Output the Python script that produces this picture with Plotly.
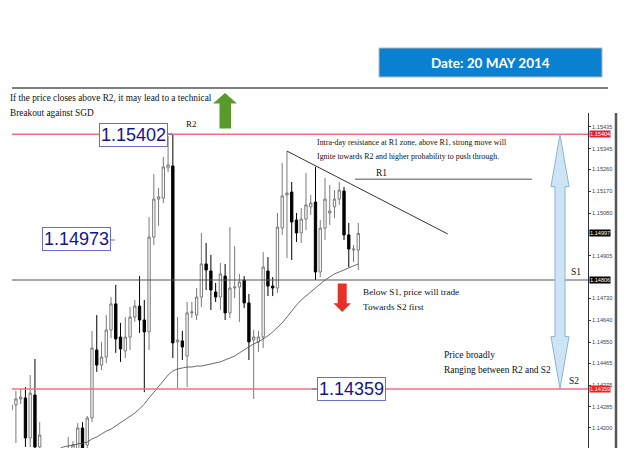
import plotly.graph_objects as go

# ---------------- data ----------------
bar_index = list(range(74))

open_ = [1.14273, 1.14293, 1.14318, 1.14322, 1.14158, 1.14334, 1.14121, 1.14035, 1.13965, 1.14002,
         1.14026, 1.14026, 1.14076, 1.14100, 1.14100, 1.14199, 1.14129, 1.14240, 1.14519, 1.14457,
         1.14490, 1.14601, 1.14708, 1.14572, 1.14515, 1.14572, 1.14654, 1.14699, 1.14642, 1.14593,
         1.14982, 1.15138, 1.15142, 1.15266, 1.15274, 1.14552, 1.14556, 1.14494, 1.14671, 1.14662,
         1.14736, 1.14872, 1.14843, 1.14757, 1.14736, 1.14822, 1.14671, 1.14773, 1.14777, 1.14806,
         1.14712, 1.14560, 1.14552, 1.14572, 1.14843, 1.14781, 1.14773, 1.15019, 1.15155, 1.15167,
         1.15052, 1.14999, 1.15056, 1.15106, 1.15126, 1.14839, 1.15019, 1.15081, 1.15106, 1.15138,
         1.15171, 1.14991, 1.14929, 1.14929]
high = [1.14301, 1.14351, 1.14359, 1.14367, 1.14416, 1.14482, 1.14223, 1.14051, 1.14026, 1.14043,
        1.14055, 1.14055, 1.14162, 1.14145, 1.14219, 1.14223, 1.14248, 1.14597, 1.14662, 1.14552,
        1.14662, 1.14736, 1.14786, 1.14630, 1.14654, 1.14695, 1.14724, 1.14822, 1.14724, 1.15064,
        1.15241, 1.15183, 1.15311, 1.15397, 1.15402, 1.14654, 1.14597, 1.14716, 1.14716, 1.14773,
        1.14999, 1.14958, 1.14909, 1.14794, 1.14876, 1.14872, 1.15023, 1.14945, 1.14831, 1.14822,
        1.14749, 1.14601, 1.14597, 1.14921, 1.14900, 1.14818, 1.15081, 1.15286, 1.15335, 1.15208,
        1.15081, 1.15101, 1.15245, 1.15155, 1.15270, 1.15052, 1.15225, 1.15196, 1.15175, 1.15208,
        1.15188, 1.15040, 1.14950, 1.15040]
low = [1.14260, 1.14137, 1.14297, 1.14121, 1.14121, 1.14104, 1.14100, 1.13944, 1.13924, 1.13953,
       1.13977, 1.13994, 1.14059, 1.14084, 1.14088, 1.14076, 1.14113, 1.14223, 1.14429, 1.14437,
       1.14465, 1.14568, 1.14507, 1.14470, 1.14486, 1.14519, 1.14634, 1.14589, 1.14346, 1.14519,
       1.14950, 1.15028, 1.15122, 1.15249, 1.14486, 1.14363, 1.14478, 1.14367, 1.14650, 1.14642,
       1.14695, 1.14765, 1.14683, 1.14716, 1.14683, 1.14642, 1.14650, 1.14732, 1.14634, 1.14691,
       1.14478, 1.14318, 1.14511, 1.14527, 1.14740, 1.14740, 1.14753, 1.14991, 1.14896, 1.14888,
       1.14962, 1.14958, 1.15011, 1.15073, 1.14806, 1.14818, 1.14970, 1.15032, 1.15060, 1.15114,
       1.14970, 1.14859, 1.14880, 1.14847]
close = [1.14293, 1.14318, 1.14326, 1.14158, 1.14342, 1.14121, 1.14170, 1.13965, 1.14006, 1.14026,
         1.14035, 1.14043, 1.14108, 1.14129, 1.14199, 1.14100, 1.14240, 1.14527, 1.14457, 1.14490,
         1.14601, 1.14708, 1.14564, 1.14523, 1.14572, 1.14654, 1.14699, 1.14642, 1.14593, 1.14982,
         1.15138, 1.15147, 1.15270, 1.15278, 1.14548, 1.14560, 1.14531, 1.14671, 1.14675, 1.14736,
         1.14872, 1.14847, 1.14765, 1.14736, 1.14831, 1.14671, 1.14773, 1.14777, 1.14798, 1.14712,
         1.14552, 1.14572, 1.14572, 1.14859, 1.14781, 1.14773, 1.15023, 1.15151, 1.15163, 1.15044,
         1.14999, 1.15056, 1.15114, 1.15122, 1.14839, 1.15019, 1.15138, 1.15089, 1.15138, 1.15175,
         1.14991, 1.14933, 1.14933, 1.14997]

ma_index = list(range(9, 74))
ma_values = [1.14100, 1.14113, 1.14121, 1.14125, 1.14129, 1.14133, 1.14137, 1.14141, 1.14154, 1.14162,
             1.14174, 1.14186, 1.14194, 1.14207, 1.14219, 1.14232, 1.14244, 1.14260, 1.14277, 1.14297,
             1.14322, 1.14346, 1.14371, 1.14396, 1.14416, 1.14433, 1.14441, 1.14445, 1.14449, 1.14449,
             1.14453, 1.14453, 1.14457, 1.14462, 1.14466, 1.14470, 1.14478, 1.14486, 1.14494, 1.14507,
             1.14519, 1.14531, 1.14544, 1.14552, 1.14564, 1.14577, 1.14593, 1.14610, 1.14630, 1.14654,
             1.14679, 1.14703, 1.14724, 1.14740, 1.14757, 1.14773, 1.14790, 1.14806, 1.14818, 1.14831,
             1.14839, 1.14847, 1.14855, 1.14863, 1.14872]

R2 = 1.15404
R1 = 1.15219
S1 = 1.14806
S2 = 1.14359
last_price = 1.14997
trend_x = [58, 91.8]
trend_y = [1.15335, 1.14995]
r1_x = [72.3, 109.5]

tick_vals = [1.15435, 1.15345, 1.15260, 1.15170, 1.15080, 1.14905, 1.14730, 1.14640,
             1.14550, 1.14465, 1.14375, 1.14285, 1.14200]
tick_text = ["%.5f" % v for v in tick_vals]

# ---------------- layout geometry (pixels) ----------------
W, H = 625, 462
L, R, T, B = 12, 588, 113, 448


def px(x):
    return (x - L) / (R - L)


def py(y):
    return (B - y) / (B - T)


fig = go.Figure()
fig.add_trace(go.Candlestick(
    x=bar_index, open=open_, high=high, low=low, close=close,
    increasing=dict(line=dict(color="#7a7a7a", width=1), fillcolor="white"),
    decreasing=dict(line=dict(color="black", width=1), fillcolor="black"),
    whiskerwidth=0, hoverinfo="skip"))
fig.add_trace(go.Scatter(x=ma_index, y=ma_values, mode="lines",
                         line=dict(color="#444444", width=0.8), hoverinfo="skip"))

shapes = []
# support / resistance levels
shapes.append(dict(type="line", xref="paper", yref="y", x0=0, x1=1, y0=R2, y1=R2,
                   line=dict(color="#f07080", width=1.5)))
shapes.append(dict(type="line", xref="paper", yref="y", x0=0, x1=1, y0=S2, y1=S2,
                   line=dict(color="#f07080", width=1.5)))
shapes.append(dict(type="line", xref="paper", yref="y", x0=0, x1=1, y0=S1, y1=S1,
                   line=dict(color="#555555", width=1.2)))
shapes.append(dict(type="line", xref="x", yref="y", x0=r1_x[0], x1=r1_x[1], y0=R1, y1=R1,
                   line=dict(color="#8c8c8c", width=1.5)))
shapes.append(dict(type="line", xref="x", yref="y", x0=trend_x[0], x1=trend_x[1],
                   y0=trend_y[0], y1=trend_y[1], line=dict(color="#333333", width=1)))
# top rule and right frame bar
shapes.append(dict(type="line", xref="paper", yref="paper", x0=px(12), x1=px(608),
                   y0=py(88), y1=py(88), line=dict(color="#555555", width=1.5)))
shapes.append(dict(type="line", xref="paper", yref="paper", x0=px(616), x1=px(616),
                   y0=py(113), y1=py(448), line=dict(color="#555555", width=2.5)))
# date box
shapes.append(dict(type="rect", xref="paper", yref="paper", x0=px(379), x1=px(602),
                   y0=py(77), y1=py(48), fillcolor="#0a80d0",
                   line=dict(color="#b8b8b8", width=1)))


def poly(points):
    s = "M " + " L ".join("%.5f,%.5f" % (px(a), py(b)) for a, b in points) + " Z"
    return s


# green up arrow
shapes.append(dict(type="path", xref="paper", yref="paper",
                   path=poly([(225, 93), (237, 103.5), (231, 103.5), (231, 128.5),
                              (219.5, 128.5), (219.5, 103.5), (213, 103.5)]),
                   fillcolor="#5a9a2a", line=dict(width=0)))
# red down arrow
shapes.append(dict(type="path", xref="paper", yref="paper",
                   path=poly([(337.7, 283.5), (346.7, 283.5), (346.7, 303.3), (351, 303.3),
                              (342.2, 312), (333.4, 303.3), (337.7, 303.3)]),
                   fillcolor="#e8302a", line=dict(width=0)))
# blue double arrow between R2 and S2
xc = 115.42
hs, hh, hy = 1.05, 1.9, 0.00215
pts = [(xc, R2), (xc + hh, R2 - hy), (xc + hs, R2 - hy), (xc + hs, S2 + hy), (xc + hh, S2 + hy),
       (xc, S2), (xc - hh, S2 + hy), (xc - hs, S2 + hy), (xc - hs, R2 - hy), (xc - hh, R2 - hy)]
shapes.append(dict(type="path", xref="x", yref="y",
                   path="M " + " L ".join("%.4f,%.6f" % p for p in pts) + " Z",
                   fillcolor="#cde4f4", line=dict(color="#8fb3d0", width=1)))
# connectors of value boxes
for (a, b, y) in [(167, 173, 134), (110, 115, 240), (312, 317.5, 389)]:
    shapes.append(dict(type="line", xref="paper", yref="paper", x0=px(a), x1=px(b),
                       y0=py(y), y1=py(y), line=dict(color="#6b6bd0", width=1)))

ann = []
serif = "Liberation Serif"


def text(x, y, s, size, color="#111111", family=serif, xanchor="left"):
    ann.append(dict(xref="paper", yref="paper", x=px(x), y=py(y), text=s, showarrow=False,
                    xanchor=xanchor, yanchor="middle",
                    font=dict(family=family, size=size, color=color)))


text(8, 98.5, "If the price closes above R2, it may lead to a technical", 9.3)
text(8, 113.5, "Breakout against SGD", 9.3)
text(184, 124, "R2", 9)
text(315, 142.5, "Intra-day resistance at R1 zone, above R1, strong move will", 7.9)
text(315, 156, "Ignite towards R2 and higher probability to push through.", 7.9)
text(374, 173, "R1", 9.5)
text(361, 291.5, "Below S1, price will trade", 9.2)
text(361, 306.5, "Towards S2 first", 9.2)
text(442, 355, "Price broadly", 9.5)
text(442, 370, "Ranging between R2 and S2", 9.4)
text(569, 271.5, "S1", 9.5)
text(567, 380.5, "S2", 9.5)
text(490.5, 63, "<b>Date: 20 MAY 2014</b>", 13.5, color="white", family="Lato", xanchor="center")

for (cx, cy, s) in [(133.3, 134.8, "1.15402"), (76, 239.2, "1.14973"), (351.2, 389, "1.14359")]:
    ann.append(dict(xref="paper", yref="paper", x=px(cx), y=py(cy), text=s, showarrow=False,
                    xanchor="center", yanchor="middle", bgcolor="white",
                    bordercolor="#6b6bd0", borderwidth=1, borderpad=1,
                    font=dict(family="Liberation Sans", size=18, color="#14148c")))

for (v, bg) in [(R2, "#e0203a"), (last_price, "#000000"), (S1, "#000000"), (S2, "#ff1a1a")]:
    ann.append(dict(xref="paper", yref="y", x=1, xshift=1, y=v, text="%.5f" % v,
                    showarrow=False, xanchor="left", yanchor="middle", bgcolor=bg,
                    borderpad=0, font=dict(family="Liberation Sans", size=5.6, color="white")))

fig.update_layout(
    width=W, height=H, autosize=False,
    margin=dict(l=L, r=W - R, t=T, b=H - B, pad=0),
    paper_bgcolor="white", plot_bgcolor="white", showlegend=False,
    shapes=shapes, annotations=ann,
    xaxis=dict(range=[0.175, 121.31], visible=False, rangeslider=dict(visible=False),
               showgrid=False, zeroline=False),
    yaxis=dict(range=[1.141167, 1.154912], side="right", showline=True, linecolor="#333333",
               linewidth=1, showgrid=False, zeroline=False, ticks="outside", ticklen=2,
               tickcolor="#333333", tickvals=tick_vals, ticktext=tick_text,
               tickfont=dict(family="Liberation Sans", size=5.6, color="#444444")),
)

fig.write_html("out.html")
